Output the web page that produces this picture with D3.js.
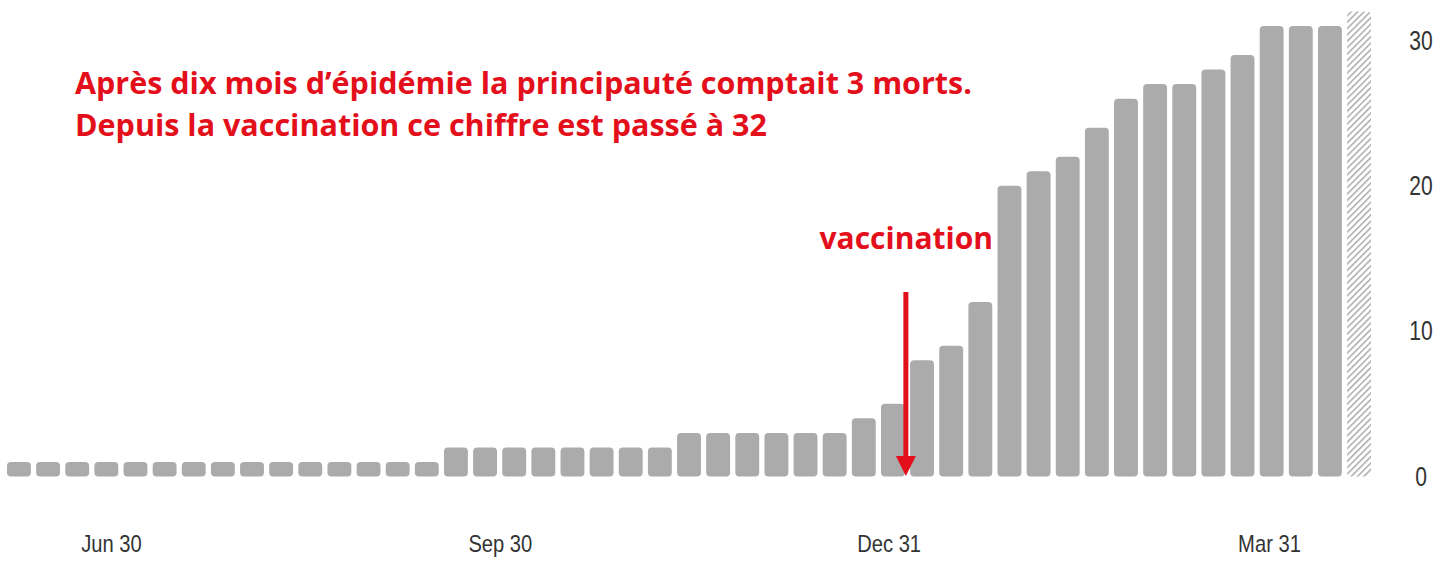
<!DOCTYPE html>
<html lang="fr">

<head>
  <meta charset="UTF-8">
  <script src="https://cdnjs.cloudflare.com/ajax/libs/d3/7.8.5/d3.min.js"></script>
  <title>Monaco - morts cumulés</title>
  <style>
    body { margin: 0; background: #fff; }
  </style>
</head>

<body>
  <div id="chart"></div>
  <script>
    // weekly cumulative deaths, last week is still incomplete (hatched)
    const deaths = [1, 1, 1, 1, 1, 1, 1, 1, 1, 1, 1, 1, 1, 1, 1,
      2, 2, 2, 2, 2, 2, 2, 2,
      3, 3, 3, 3, 3, 3,
      4, 5, 8, 9, 12, 20, 21, 22, 24, 26, 27, 27, 28, 29, 31, 31, 31,
      32];
    const partialLast = true;

    const tickDates = ['2020-06-30', '2020-09-30', '2020-12-31', '2021-03-31'];
    const tickLabels = ['Jun 30', 'Sep 30', 'Dec 31', 'Mar 31'];
    const yTicks = [0, 10, 20, 30];

    const titleLines = [
      "Après dix mois d’épidémie la principauté comptait 3 morts.",
      "Depuis la vaccination ce chiffre est passé à 32"
    ];
    const vaccLabel = 'vaccination';
    const vaccWeek = 30; // bar index the vaccination arrow sits after

    // categories: one bar per week
    const firstWeek = new Date(2020, 5, 4);
    const weeks = deaths.map((d, i) => d3.timeDay.offset(firstWeek, i * 7));

    const width = 1447;
    const height = 565;
    const red = '#e3101c';
    const grey = '#ababab';
    const sans = '"Liberation Sans", Arial, sans-serif';

    const svg = d3.select('#chart')
      .append('svg')
      .attr('width', width)
      .attr('height', height);

    const pattern = svg.append('defs')
      .append('pattern')
      .attr('id', 'hatch')
      .attr('patternUnits', 'userSpaceOnUse')
      .attr('width', 4.5)
      .attr('height', 4.5)
      .attr('patternTransform', 'rotate(45)');
    pattern.append('rect')
      .attr('width', 4.5).attr('height', 4.5).attr('fill', '#fff');
    pattern.append('line')
      .attr('x1', 0).attr('y1', 0).attr('x2', 0).attr('y2', 4.5)
      .attr('stroke', grey).attr('stroke-width', 3);

    const xScale = d3.scaleBand()
      .domain(d3.range(deaths.length))
      .range([7, 1371])
      .paddingInner(0.18)
      .paddingOuter(0);

    const yScale = d3.scaleLinear()
      .domain([0, 30])
      .range([476.5, 40.5]);

    // time scale only used to place the date labels
    const tScale = d3.scaleTime()
      .domain([new Date(2020, 5, 30), new Date(2021, 2, 31)])
      .range([111, 1269]);

    svg.append('g')
      .selectAll('rect')
      .data(deaths)
      .enter()
      .append('rect')
      .attr('x', (d, i) => xScale(i))
      .attr('width', xScale.bandwidth())
      .attr('y', d => yScale(d))
      .attr('height', d => yScale(0) - yScale(d))
      .attr('rx', 4)
      .attr('fill', (d, i) => (partialLast && i === deaths.length - 1) ? 'url(#hatch)' : grey);

    // squeeze a label horizontally, the original uses a condensed face
    function condense(sel, k) {
      sel.each(function () {
        const w = this.getComputedTextLength();
        d3.select(this)
          .attr('textLength', w * k)
          .attr('lengthAdjust', 'spacingAndGlyphs');
      });
    }

    // x axis labels
    const xAxis = svg.append('g')
      .attr('transform', 'translate(0, 535)')
      .call(d3.axisBottom(tScale)
        .tickValues(tickDates.map(s => d3.timeParse('%Y-%m-%d')(s)))
        .tickFormat((d, i) => tickLabels[i])
        .tickSize(0));
    xAxis.select('.domain').remove();
    xAxis.selectAll('text')
      .attr('y', 0)
      .attr('dy', '0.71em')
      .style('font-family', sans)
      .style('font-size', '24px')
      .style('fill', '#333')
      .call(condense, 0.84);

    // y axis on the right
    const yAxis = svg.append('g')
      .attr('transform', 'translate(1421, 0)')
      .call(d3.axisRight(yScale).tickValues(yTicks).tickSize(0));
    yAxis.select('.domain').remove();
    yAxis.selectAll('text')
      .attr('x', 0)
      .style('text-anchor', 'middle')
      .style('font-family', sans)
      .style('font-size', '27px')
      .style('fill', '#333')
      .call(condense, 0.78);

    // title
    svg.append('g')
      .selectAll('text')
      .data(titleLines)
      .enter()
      .append('text')
      .attr('x', 75)
      .attr('y', (d, i) => 94 + i * 42)
      .text(d => d)
      .style('font-family', '"Open Sans", sans-serif')
      .style('font-weight', 700)
      .style('font-size', '30.5px')
      .style('fill', red);

    // vaccination arrow
    const ax = xScale(vaccWeek) + xScale.bandwidth() + 1;
    svg.append('line')
      .attr('x1', ax).attr('x2', ax)
      .attr('y1', 292).attr('y2', 458)
      .attr('stroke', red)
      .attr('stroke-width', 5);
    svg.append('path')
      .attr('d', `M${ax - 10},456 L${ax + 10},456 L${ax},476 Z`)
      .attr('fill', red);

    svg.append('text')
      .attr('x', 993)
      .attr('y', 249)
      .attr('text-anchor', 'end')
      .text(vaccLabel)
      .style('font-family', '"Open Sans", sans-serif')
      .style('font-weight', 700)
      .style('font-size', '30px')
      .style('fill', red);
  </script>
</body>

</html>
